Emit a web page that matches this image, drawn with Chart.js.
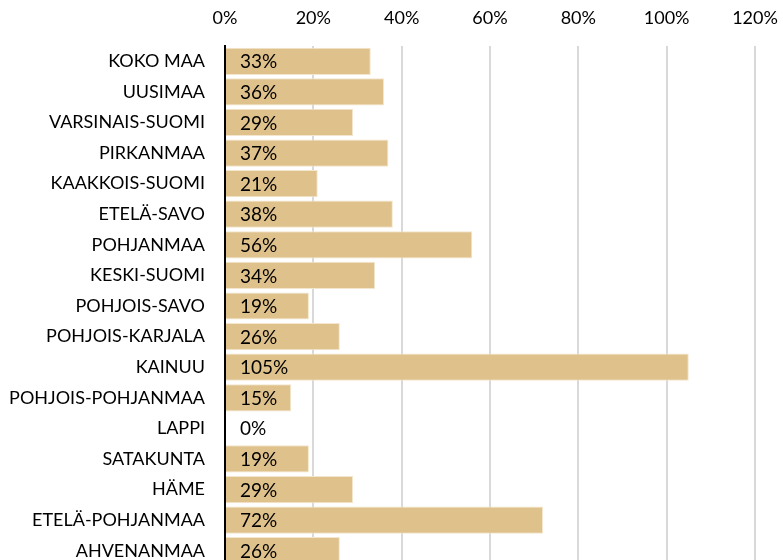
<!DOCTYPE html>
<html>
<head>
<meta charset="utf-8">
<script src="https://cdn.jsdelivr.net/npm/chart.js@4"></script>
<style>
  html, body { margin: 0; padding: 0; background: #fff; overflow: hidden; }
</style>
</head>
<body>
<canvas id="regionChart" width="780" height="566"></canvas>
<script>
// Regions, top to bottom
const regions = ['KOKO MAA', 'UUSIMAA', 'VARSINAIS-SUOMI', 'PIRKANMAA', 'KAAKKOIS-SUOMI',
  'ETELÄ-SAVO', 'POHJANMAA', 'KESKI-SUOMI', 'POHJOIS-SAVO', 'POHJOIS-KARJALA', 'KAINUU',
  'POHJOIS-POHJANMAA', 'LAPPI', 'SATAKUNTA', 'HÄME', 'ETELÄ-POHJANMAA', 'AHVENANMAA'];
// Share in percent
const shares = [33, 36, 29, 37, 21, 38, 56, 34, 19, 26, 105, 15, 0, 19, 29, 72, 26];
const axisMin = 0, axisMax = 120, axisStep = 20;

const fontFamily = 'Lato, "Open Sans", sans-serif';

// value labels inside the bars, near the start
const barLabels = {
  id: 'barLabels',
  afterDatasetsDraw(chart) {
    const c = chart.ctx;
    const meta = chart.getDatasetMeta(0);
    const x0 = chart.scales.x.getPixelForValue(0);
    c.save();
    c.font = '19px ' + fontFamily;
    c.fillStyle = '#000';
    c.textBaseline = 'middle';
    c.textAlign = 'left';
    meta.data.forEach((bar, i) => {
      c.fillText(shares[i] + '%', x0 + 15, bar.y + 1);
    });
    c.restore();
  }
};

const ctx = document.getElementById('regionChart').getContext('2d');
new Chart(ctx, {
  type: 'bar',
  data: {
    labels: regions,
    datasets: [{
      data: shares,
      backgroundColor: '#dfc18b',
      borderColor: '#f3e6cc',
      borderWidth: 1,
      borderSkipped: 'left',
      categoryPercentage: 1,
      barPercentage: 0.89
    }]
  },
  options: {
    responsive: false,
    indexAxis: 'y',
    animation: false,
    layout: { padding: { left: 0, right: 25, top: 0, bottom: 0 } },
    plugins: { legend: { display: false }, tooltip: { enabled: false } },
    scales: {
      x: {
        position: 'top',
        min: axisMin,
        max: axisMax,
        ticks: {
          stepSize: axisStep,
          callback: v => v + '%',
          color: '#000',
          font: { family: fontFamily, size: 18 },
          padding: 17,
          maxRotation: 0
        },
        grid: { color: '#d9d9d9', lineWidth: 2, drawTicks: false },
        border: { display: false },
        afterFit(scale) {
          scale.height = 46;
          scale.paddingLeft = 0;
          scale.paddingRight = 0;
        }
      },
      y: {
        ticks: {
          color: '#000',
          font: { family: fontFamily, size: 18 },
          padding: 20,
          autoSkip: false
        },
        grid: { display: false, drawTicks: false },
        border: { color: '#000', width: 2 },
        afterFit(scale) {
          scale.width = 225;
          scale.paddingTop = 0;
          scale.paddingBottom = 0;
        }
      }
    }
  },
  plugins: [barLabels]
});
</script>
</body>
</html>
